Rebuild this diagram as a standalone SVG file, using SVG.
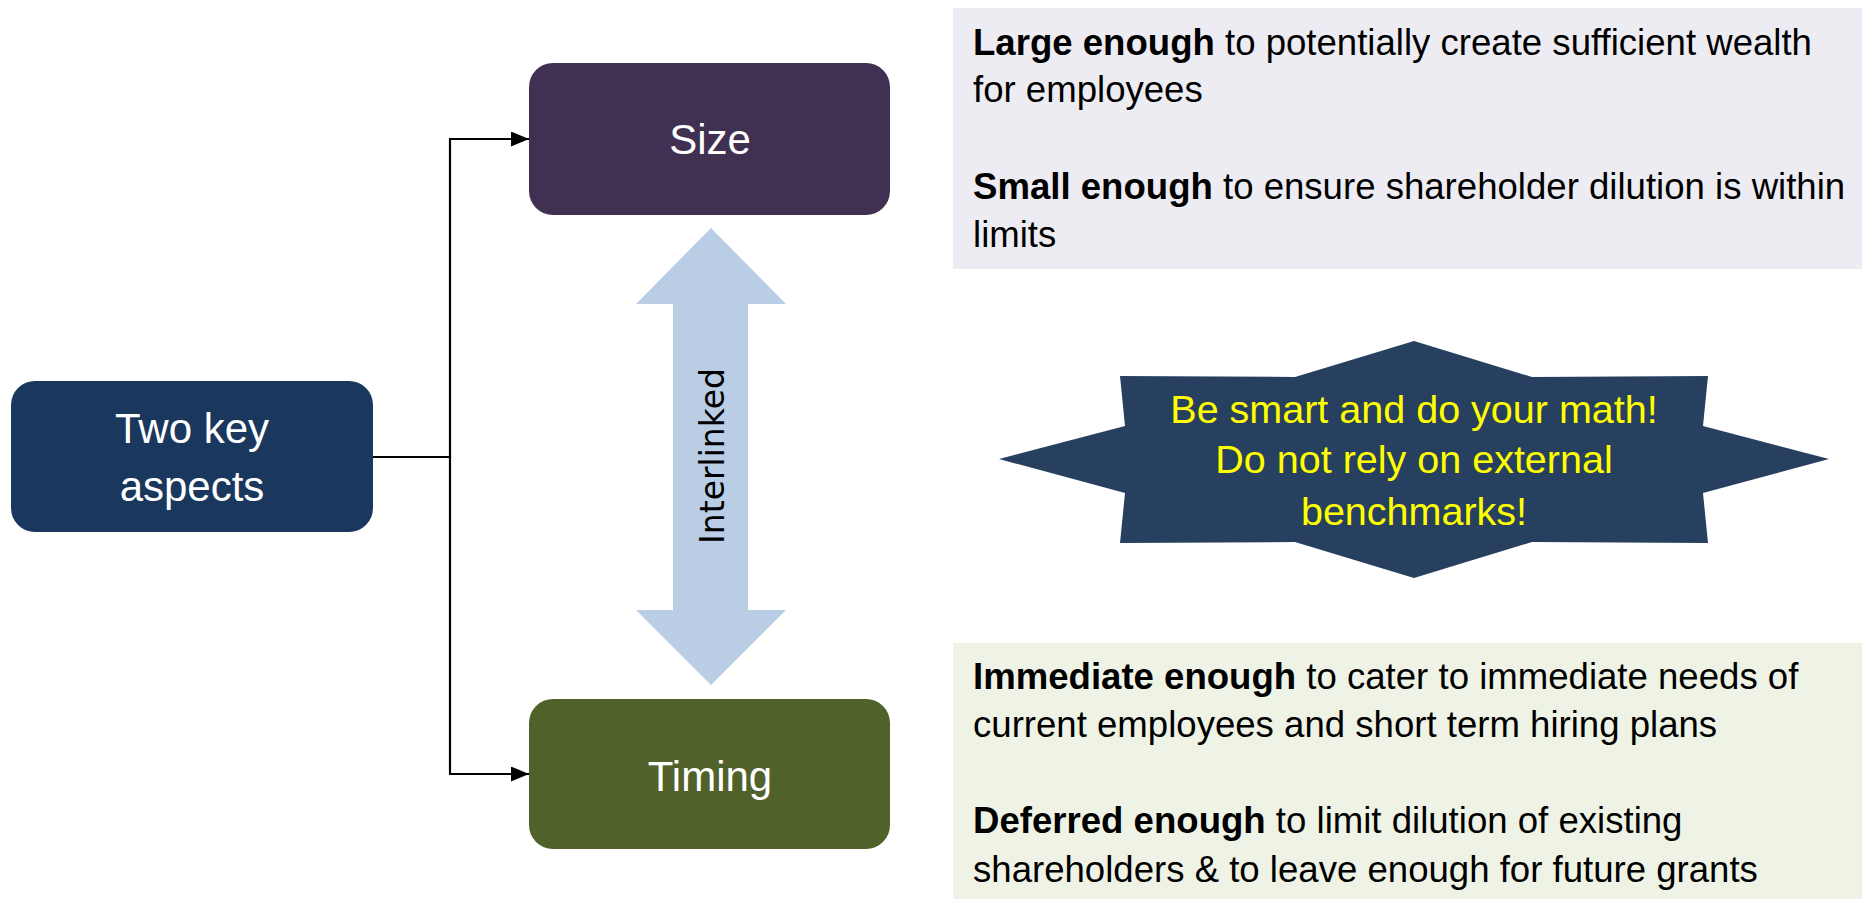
<svg xmlns="http://www.w3.org/2000/svg" width="1862" height="899" viewBox="0 0 1862 899">
<style>
  .node-label { font-family: "Liberation Sans", Arial, sans-serif; font-size: 42px; fill: #FFFFFF; text-anchor: middle; }
  .body { font-family: "Liberation Sans", Arial, sans-serif; font-size: 36.6px; fill: #000000; }
  .bold { font-weight: bold; }
  .star-text { font-family: "Liberation Sans", Arial, sans-serif; font-size: 39.5px; fill: #FFFF00; text-anchor: middle; }
  .link { fill: none; stroke: #000000; stroke-width: 2.2; }
</style>
<defs>
  <marker id="arrow" markerUnits="userSpaceOnUse" markerWidth="18" markerHeight="15" viewBox="0 0 18 15" refX="18" refY="7.5" orient="auto">
    <path d="M0,0 L18,7.5 L0,15 z" fill="#000000"/>
  </marker>
</defs>
<rect width="1862" height="899" fill="#FFFFFF"/>

<g id="size-notes">
  <rect x="953" y="8" width="909" height="261" fill="#EEECF3"/>
  <text class="body" x="973" y="55"><tspan class="bold">Large enough</tspan> to potentially create sufficient wealth</text>
  <text class="body" x="973" y="102">for employees</text>
  <text class="body" x="973" y="199"><tspan class="bold">Small enough</tspan> to ensure shareholder dilution is within</text>
  <text class="body" x="973" y="247">limits</text>
</g>

<g id="timing-notes">
  <rect x="953" y="643" width="909" height="256" fill="#EFF3E5"/>
  <text class="body" x="973" y="689"><tspan class="bold">Immediate enough</tspan> to cater to immediate needs of</text>
  <text class="body" x="973" y="737">current employees and short term hiring plans</text>
  <text class="body" x="973" y="833"><tspan class="bold">Deferred enough</tspan> to limit dilution of existing</text>
  <text class="body" x="973" y="882">shareholders &amp; to leave enough for future grants</text>
</g>

<g id="star">
  <polygon points="1414,341 1532,377 1708,376 1703,426 1829,459 1703,493 1708,543 1532,542 1414,578 1295,542 1120,543 1125,493 999,459 1125,426 1120,376 1295,377" fill="#27405F"/>
  <text class="star-text" x="1414" y="423">Be smart and do your math!</text>
  <text class="star-text" x="1414" y="473">Do not rely on external</text>
  <text class="star-text" x="1414" y="525">benchmarks!</text>
</g>

<g id="interlinked">
  <polygon points="711,228 786,304 748,304 748,610 786,610 711,685 636,610 673,610 673,304 636,304" fill="#B9CDE5"/>
  <text transform="translate(724,456) rotate(-90)" text-anchor="middle" font-family="'DejaVu Sans', Verdana, sans-serif" font-size="33" fill="#000000">Interlinked</text>
</g>

<g id="connectors">
  <path class="link" d="M373,457 H450"/>
  <path class="link" d="M450,139 V774"/>
  <path class="link" d="M449,139 H529" marker-end="url(#arrow)"/>
  <path class="link" d="M449,774 H529" marker-end="url(#arrow)"/>
</g>

<g id="two-key-aspects">
  <rect x="11" y="381" width="362" height="151" rx="24" ry="24" fill="#1A375E"/>
  <text class="node-label" x="192" y="443">Two key</text>
  <text class="node-label" x="192" y="501">aspects</text>
</g>

<g id="size">
  <rect x="529" y="63" width="361" height="152" rx="24" ry="24" fill="#403152"/>
  <text class="node-label" x="710" y="154">Size</text>
</g>

<g id="timing">
  <rect x="529" y="699" width="361" height="150" rx="24" ry="24" fill="#50622A"/>
  <text class="node-label" x="710" y="791">Timing</text>
</g>
</svg>
